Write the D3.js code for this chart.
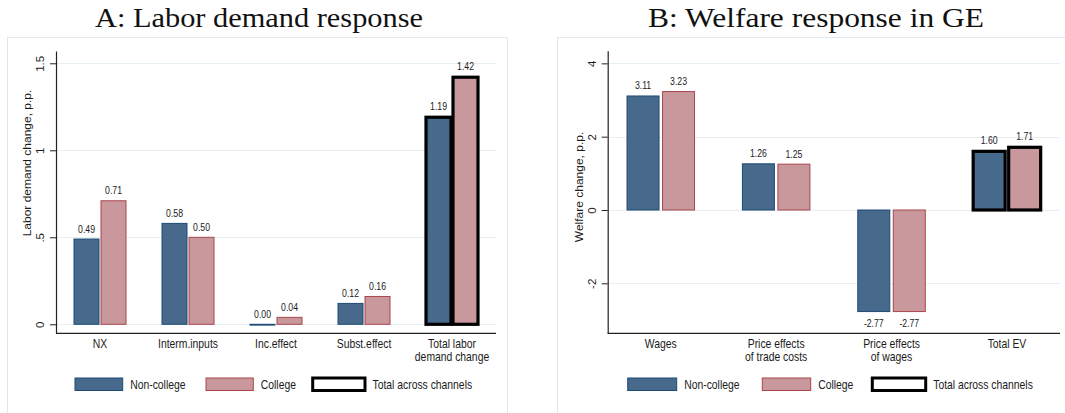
<!DOCTYPE html>
<html>
<head>
<meta charset="utf-8">
<script src="https://cdn.jsdelivr.net/npm/d3@7"></script>
<style>
  html, body { margin: 0; padding: 0; background: #ffffff; }
  svg { display: block; }
  .sans { font-family: "Liberation Sans", Arial, sans-serif; }
  .serif { font-family: "Liberation Serif", "Times New Roman", serif; }
</style>
</head>
<body>
<svg id="chart" width="1065" height="413"></svg>
<script>
// Panel A: labor demand response by channel
const laborCategories = ["NX", "Interm.inputs", "Inc.effect", "Subst.effect", "Total labor\ndemand change"];
const laborNonCollege = [0.49, 0.58, 0.00, 0.12, 1.19];
const laborCollege = [0.71, 0.50, 0.04, 0.16, 1.42];
const laborTicks = [0, 0.5, 1, 1.5];
const laborTickLabels = ["0", ".5", "1", "1.5"];

// Panel B: welfare response in general equilibrium
const welfareCategories = ["Wages", "Price effects\nof trade costs", "Price effects\nof wages", "Total EV"];
const welfareNonCollege = [3.11, 1.26, -2.77, 1.60];
const welfareCollege = [3.23, 1.25, -2.77, 1.71];
const welfareTicks = [-2, 0, 2, 4];
const welfareTickLabels = ["-2", "0", "2", "4"];

const seriesNames = ["Non-college", "College", "Total across channels"];

const colors = {
  nonFill: "#476a8c", nonStroke: "#1e4a76",
  colFill: "#c9989c", colStroke: "#a9454d",
  grid: "#e6eff1", frame: "#dfe8ec", ink: "#1a1a1a"
};

// condensed horizontal text
const SX = 0.83;
const fmt = d3.formatLocale({ decimal: ".", thousands: ",", grouping: [3], currency: ["", ""], minus: "-" }).format(".2f");

const svg = d3.select("#chart");

function drawPanel(opt) {
  const g = svg.append("g");

  // panel frame
  g.append("rect")
    .attr("x", opt.frame[0] + 0.5).attr("y", opt.frame[1] + 0.5)
    .attr("width", opt.frame[2]).attr("height", opt.frame[3])
    .attr("fill", "none").attr("stroke", colors.frame).attr("stroke-width", 1);

  // title
  g.append("text").attr("class", "serif")
    .attr("x", opt.titleX).attr("y", 26.5)
    .attr("text-anchor", "middle")
    .attr("font-size", 27.5)
    .attr("fill", "#111")
    .attr("textLength", opt.titleWidth)
    .attr("lengthAdjust", "spacingAndGlyphs")
    .text(opt.title);

  const y = d3.scaleLinear().domain(opt.yDomain).range([opt.bottom, opt.top]);
  const x = d3.scalePoint().domain(opt.categories).range([opt.left, opt.right]).padding(opt.pad);

  // gridlines
  g.append("g").selectAll("line").data(opt.ticks).join("line")
    .attr("x1", opt.left + 1).attr("x2", opt.right)
    .attr("y1", d => Math.round(y(d)) + 0.5).attr("y2", d => Math.round(y(d)) + 0.5)
    .attr("stroke", colors.grid).attr("stroke-width", 1);

  // y axis
  const yAxis = d3.axisLeft(y).tickValues(opt.ticks)
    .tickFormat((d, i) => opt.tickLabels[i]).tickSize(6).tickSizeOuter(0);
  const ya = g.append("g").attr("transform", `translate(${opt.left},0)`).call(yAxis);
  ya.select(".domain").attr("stroke", "#222").attr("stroke-width", 1.2);
  ya.selectAll(".tick line").attr("stroke", "#222");
  ya.selectAll(".tick text")
    .attr("class", "sans")
    .attr("font-size", 11.5)
    .attr("fill", colors.ink)
    .attr("x", null).attr("dy", null)
    .attr("text-anchor", "middle")
    .attr("transform", "translate(-12,0) rotate(-90) scale(1,0.9)");

  // x axis line
  g.append("line")
    .attr("x1", opt.left).attr("x2", opt.right)
    .attr("y1", opt.bottom).attr("y2", opt.bottom)
    .attr("stroke", "#222").attr("stroke-width", 1.2);

  // y axis title
  g.append("text").attr("class", "sans")
    .attr("transform", `translate(${opt.left - 25},${opt.yTitleY}) rotate(-90) scale(1,0.9)`)
    .attr("text-anchor", "middle")
    .attr("font-size", 12).attr("fill", colors.ink)
    .text(opt.yTitle);

  // category labels
  const cl = g.append("g").selectAll("text").data(opt.categories).join("text")
    .attr("class", "sans")
    .attr("transform", d => `translate(${x(d)},348) scale(${SX},1)`)
    .attr("text-anchor", "middle")
    .attr("font-size", 12.5).attr("fill", colors.ink);
  cl.each(function (d) {
    const parts = d.split("\n");
    d3.select(this).selectAll("tspan").data(parts).join("tspan")
      .attr("x", 0).attr("dy", (p, i) => i === 0 ? 0 : 13)
      .text(p => p);
  });

  // bars
  const last = opt.categories.length - 1;
  const bw = opt.barWidth, gap = opt.gap;
  const rows = [];
  opt.categories.forEach((c, i) => {
    rows.push({ c, i, v: opt.non[i], side: 0 });
    rows.push({ c, i, v: opt.col[i], side: 1 });
  });

  g.append("g").selectAll("rect").data(rows).join("rect")
    .attr("x", d => d.side === 0 ? x(d.c) - gap / 2 - bw : x(d.c) + gap / 2)
    .attr("width", bw)
    .attr("y", d => Math.min(y(d.v), y(0)))
    .attr("height", d => Math.max(Math.abs(y(d.v) - y(0)), 0.8))
    .attr("fill", d => d.side === 0 ? colors.nonFill : colors.colFill)
    .attr("stroke", d => d.i === last ? "#000" : (d.side === 0 ? colors.nonStroke : colors.colStroke))
    .attr("stroke-width", d => d.i === last ? 3.2 : 1);

  // value labels
  g.append("g").selectAll("text").data(rows).join("text")
    .attr("class", "sans")
    .attr("transform", d => {
      const cx = d.side === 0 ? x(d.c) - gap / 2 - bw / 2 : x(d.c) + gap / 2 + bw / 2;
      const cy = d.v >= 0 ? y(d.v) - (d.i === last ? 7.5 : 6.5) : y(d.v) + 15;
      return `translate(${cx},${cy}) scale(${SX},1)`;
    })
    .attr("text-anchor", "middle")
    .attr("font-size", 10.5).attr("fill", colors.ink)
    .text(d => fmt(d.v));

  // legend
  const lg = g.append("g");
  const keys = [
    { fill: colors.nonFill, stroke: colors.nonStroke, sw: 1, name: seriesNames[0] },
    { fill: colors.colFill, stroke: colors.colStroke, sw: 1, name: seriesNames[1] },
    { fill: "#fff", stroke: "#000", sw: 3, name: seriesNames[2] }
  ];
  keys.forEach((k, i) => {
    const [x0, x1] = opt.legendRects[i];
    lg.append("rect")
      .attr("x", x0).attr("y", 378).attr("width", x1 - x0).attr("height", 12.5)
      .attr("fill", k.fill).attr("stroke", k.stroke).attr("stroke-width", k.sw);
    lg.append("text").attr("class", "sans")
      .attr("transform", `translate(${x1 + 7.5},389) scale(${SX},1)`)
      .attr("font-size", 12.5).attr("fill", colors.ink)
      .text(k.name);
  });
}

drawPanel({
  title: "A: Labor demand response",
  titleX: 259, titleWidth: 328,
  frame: [7, 37, 500, 380],
  categories: laborCategories,
  non: laborNonCollege, col: laborCollege,
  ticks: laborTicks, tickLabels: laborTickLabels,
  yDomain: [-0.0517, 1.5707],
  top: 51, bottom: 333.3,
  left: 56, right: 496, pad: 0.5,
  barWidth: 25, gap: 2,
  yTitle: "Labor demand change, p.p.", yTitleY: 163,
  legendRects: [[75, 122.7], [206, 253.3], [312.7, 365]]
});

drawPanel({
  title: "B: Welfare response in GE",
  titleX: 816, titleWidth: 336,
  frame: [557, 37, 520, 380],
  categories: welfareCategories,
  non: welfareNonCollege, col: welfareCollege,
  ticks: welfareTicks, tickLabels: welfareTickLabels,
  yDomain: [-3.363, 4.345],
  top: 50.7, bottom: 333.3,
  left: 607.7, right: 1060, pad: 0.46,
  barWidth: 32, gap: 3.5,
  yTitle: "Welfare change, p.p.", yTitleY: 187,
  legendRects: [[627.7, 676.7], [762.3, 810.7], [872.3, 925.7]]
});
</script>
</body>
</html>
